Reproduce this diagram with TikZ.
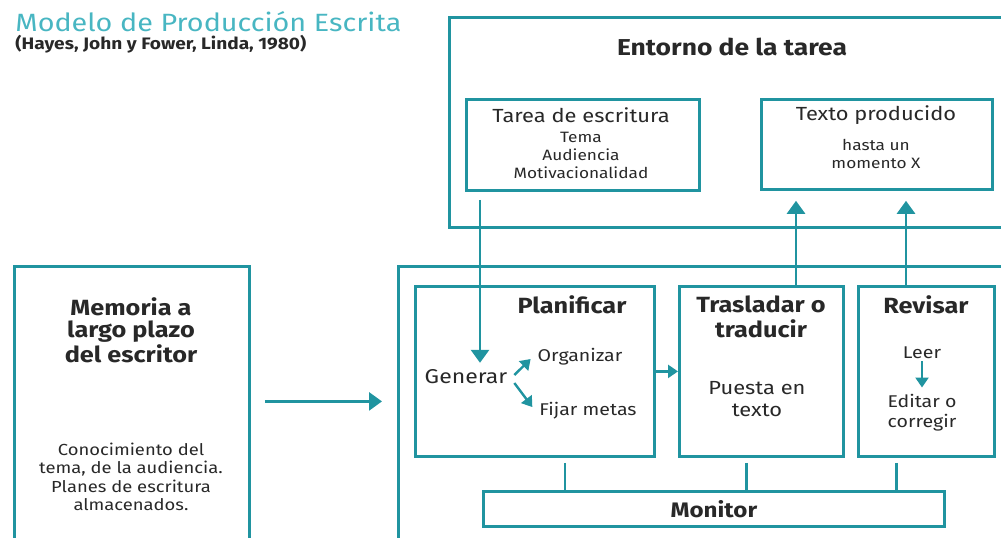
\documentclass[tikz,border=0pt]{standalone}
\usepackage{fontspec}
\setmainfont{Fira Sans}[FakeStretch=1.15]
\usetikzlibrary{arrows.meta, positioning, calc}
\definecolor{cTeal}{RGB}{32,148,160}
\definecolor{cTitle}{RGB}{72,182,194}
\definecolor{cInk}{RGB}{40,40,40}
\tikzset{
	panel/.style={rectangle, draw=cTeal, line width=1.4pt, anchor=north west, inner sep=0pt},
	headtxt/.style={font=\bfseries\fontsize{11}{12.5}\selectfont, text=cInk, align=center},
	subtxt/.style={font=\fontsize{9.5}{11}\selectfont, text=cInk, align=center},
	smalltxt/.style={font=\fontsize{7.5}{9}\selectfont, text=cInk, align=center},
	bigflow/.style={-{Triangle[length=6.5pt, width=9pt]}, draw=cTeal, line width=1.4pt},
	tinyflow/.style={-{Triangle[length=5pt, width=6.5pt]}, draw=cTeal, line width=1.2pt},
	link/.style={draw=cTeal, line width=1.4pt},
}

\begin{document}
\begin{tikzpicture}[x=0.5pt, y=-0.5pt]
	\useasboundingbox (0,0) rectangle (1001,537);
	\clip (0,0) rectangle (1001,537);

	% title
	\node[anchor=base west, inner sep=0pt, font=\fontsize{12.5}{14}\selectfont, text=cTitle] (titulo) at (15,31) {Modelo de Producción Escrita};
	\node[anchor=base west, inner sep=0pt, font=\bfseries\fontsize{8.3}{9}\selectfont, text=cInk] (autores) at (15,49) {(Hayes, John y Fower, Linda, 1980)};

	% task environment
	\node[panel, minimum width=278.5pt, minimum height=105pt] (entorno) at (448,16) {};
	\node[headtxt, font=\bfseries\fontsize{11.5}{13}\selectfont] (entornoT) at (732,47) {Entorno de la tarea};
	\node[panel, minimum width=116.5pt, minimum height=45.5pt] (tarea) at (465,98) {};
	\node[subtxt] (tareaT) at (581,115) {Tarea de escritura};
	\node[smalltxt] (tareaB) at (581,155) {Tema\\Audiencia\\Motivacionalidad};
	\node[panel, minimum width=115.5pt, minimum height=45pt] (texto) at (760,98) {};
	\node[subtxt] (textoT) at (876,115) {Texto producido};
	\node[smalltxt] (textoB) at (876,154) {hasta un\\momento X};

	% long-term memory
	\node[panel, minimum width=117.5pt, minimum height=140pt] (memoria) at (13,265) {};
	\node[headtxt, font=\bfseries\fontsize{11}{11.25}\selectfont] (memoriaT) at (131,330) {Memoria a\\largo plazo\\del escritor};
	\node[smalltxt, font=\fontsize{8}{9.2}\selectfont] (memoriaB) at (131,477) {Conocimiento del\\tema, de la audiencia.\\Planes de escritura\\almacenados.};

	% writing processes
	\node[panel, minimum width=305pt, minimum height=140pt] (proceso) at (397,265) {};
	\node[panel, minimum width=119.5pt, minimum height=85pt] (plan) at (414,285) {};
	\node[panel, minimum width=82pt, minimum height=85pt] (tras) at (678,285) {};
	\node[panel, minimum width=68pt, minimum height=85pt] (rev) at (857,285) {};
	\node[panel, headtxt, font=\bfseries\fontsize{10.5}{12}\selectfont, minimum width=230.5pt, minimum height=17.5pt] (monitor) at (482,490) {Monitor};

	\node[headtxt] (planT) at (572,305) {Planificar};
	\node[subtxt, font=\fontsize{10}{12}\selectfont] (generar) at (466,377) {Generar};
	\node[subtxt, font=\fontsize{8.5}{10}\selectfont] (organizar) at (580,357) {Organizar};
	\node[subtxt, font=\fontsize{8.5}{10}\selectfont] (fijar) at (588,411) {Fijar metas};
	\node[headtxt] (trasT) at (761,317) {Trasladar o\\traducir};
	\node[subtxt, font=\fontsize{9.5}{11}\selectfont] (puesta) at (757,399) {Puesta en\\texto};
	\node[headtxt] (revT) at (926,305) {Revisar};
	\node[subtxt, font=\fontsize{8.5}{10}\selectfont, inner sep=1pt] (leer) at (922,353) {Leer};
	\node[subtxt, font=\fontsize{8.5}{10}\selectfont] (editar) at (922,413) {Editar o\\corregir};

	% arrows
	\coordinate (baja) at ($(tarea.south west)+(15,8)$);
	\coordinate (sube1) at ($(tras.north west)+(118,0)$);
	\coordinate (sube2) at ($(rev.north west)+(49,0)$);
	\draw[bigflow] (baja) -- (baja |- generar.north);
	\draw[bigflow] (sube1) -- ($(sube1 |- texto.south)+(0,10)$);
	\draw[bigflow] (sube2) -- ($(sube2 |- texto.south)+(0,10)$);
	\draw[bigflow] ($(memoria.east)+(14,-5)$) -- ($(proceso.west)+(-15,-5)$);
	\draw[tinyflow] (plan.east) -- (tras.west);
	\draw[tinyflow] ([yshift=1pt]generar.east) -- ([yshift=-1pt]organizar.west);
	\draw[tinyflow] ([yshift=-3pt]generar.east) -- ([yshift=2pt]fijar.west);
	\draw[tinyflow] (leer) -- (editar);
	\foreach \caja/\dx in {plan/30, tras/-15, rev/-30}
		\draw[link] ($(\caja.south)+(\dx,5)$) -- ($(\caja.south |- monitor.north)+(\dx,0)$);
\end{tikzpicture}
\end{document}
